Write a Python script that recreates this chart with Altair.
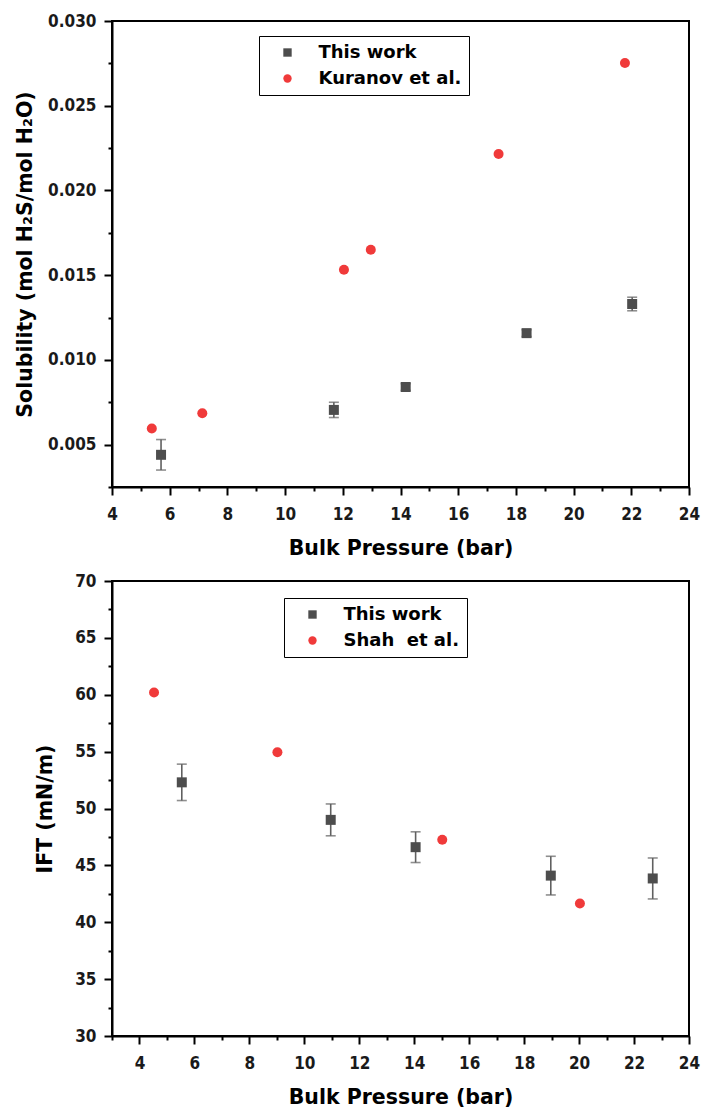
import altair as alt
import pandas as pd

# ---------- Top panel: solubility ----------
tw1_p = [5.70, 11.69, 14.18, 18.37, 22.03]
tw1_s = [0.0044, 0.00705, 0.0084, 0.01158, 0.01330]
tw1_e = [0.0009, 0.00045, 0.0002, 0.0002, 0.0004]
ku_p = [5.38, 7.13, 12.04, 12.97, 17.40, 21.78]
ku_s = [0.00595, 0.00685, 0.01532, 0.01650, 0.02215, 0.02752]

# ---------- Bottom panel: IFT ----------
tw2_p = [5.54, 10.96, 14.05, 18.97, 22.68]
tw2_i = [52.3, 49.0, 46.6, 44.1, 43.85]
tw2_e = [1.6, 1.4, 1.35, 1.7, 1.8]
sh_p = [4.53, 9.02, 15.02, 20.03]
sh_i = [60.2, 54.95, 47.25, 41.65]

top_series = ["This work", "Kuranov et al."]
bot_series = ["This work", "Shah\u00a0 et al."]

x_ticks_top = list(range(4, 25))
y_ticks_top = [round(0.0025 * k, 4) for k in range(1, 13)]
x_ticks_bot = list(range(3, 25))
y_ticks_bot = [30 + 2.5 * k for k in range(0, 17)]


def frame(p1, v1, e1, p2, v2, series):
    return pd.DataFrame({
        "p": p1 + p2,
        "v": v1 + v2,
        "lo": [v - e for v, e in zip(v1, e1)] + [None] * len(p2),
        "hi": [v + e for v, e in zip(v1, e1)] + [None] * len(p2),
        "series": [series[0]] * len(p1) + [series[1]] * len(p2),
    })


top_df = frame(tw1_p, tw1_s, tw1_e, ku_p, ku_s, top_series)
bot_df = frame(tw2_p, tw2_i, tw2_e, sh_p, sh_i, bot_series)

SQ = "#4d4d4d"
RED = "#f03a3a"
ERR = "#606060"
TICKFONT = "DejaVu Sans Condensed"
TITLEFONT = "DejaVu Sans"


def x_axis(vals):
    return alt.Axis(
        values=vals,
        title="Bulk Pressure (bar)",
        format="d",
        labelExpr="datum.value % 2 == 0 ? datum.label : ''",
        tickSize={"condition": {"test": "datum.value % 2 != 0", "value": 4}, "value": 8},
        labelOverlap=False,
        labelFlush=False,
        labelPadding=11,
        titleY=61,
        titleBaseline="middle",
    )


def y_axis(vals, title, label_expr, fmt, minor_test, title_x):
    return alt.Axis(
        values=vals,
        title=title,
        format=fmt,
        labelExpr=label_expr,
        tickSize={"condition": {"test": minor_test, "value": 4}, "value": 8},
        labelOverlap=False,
        labelFlush=False,
        labelPadding=8,
        titleX=title_x,
        titleBaseline="middle",
    )


def panel(df, series, xdom, xvals, ydom, yaxis, w, h, lx, ly):
    xs = alt.Scale(domain=xdom, nice=False, zero=False)
    ys = alt.Scale(domain=ydom, nice=False, zero=False)
    base = alt.Chart(df).encode(x=alt.X("p:Q", scale=xs, axis=x_axis(xvals)))
    bars = base.mark_rule(color=ERR, strokeWidth=1.6).encode(
        y=alt.Y("lo:Q", scale=ys, axis=yaxis), y2="hi:Q"
    )
    cap_lo = base.mark_tick(color=ERR, orient="horizontal", size=10, thickness=1.6).encode(
        y=alt.Y("lo:Q", scale=ys, axis=yaxis)
    )
    cap_hi = base.mark_tick(color=ERR, orient="horizontal", size=10, thickness=1.6).encode(
        y=alt.Y("hi:Q", scale=ys, axis=yaxis)
    )
    points = base.mark_point(filled=True, size=100, opacity=1).encode(
        y=alt.Y("v:Q", scale=ys, axis=yaxis),
        color=alt.Color(
            "series:N",
            scale=alt.Scale(domain=series, range=[SQ, RED]),
            legend=alt.Legend(
                title=None,
                orient="none",
                legendX=lx,
                legendY=ly,
                strokeColor="black",
                fillColor="white",
                padding=7.5,
                symbolOffset=12,
                labelOffset=22,
                rowPadding=8,
                symbolSize=70,
                labelFont=TITLEFONT,
                labelFontWeight="bold",
                labelFontSize=18,
                labelColor="black",
                labelLimit=300,
            ),
        ),
        shape=alt.Shape(
            "series:N",
            scale=alt.Scale(domain=series, range=["square", "circle"]),
            legend=alt.Legend(title=None, orient="none", legendX=lx, legendY=ly),
        ),
    )
    return alt.layer(bars, cap_lo, cap_hi, points).properties(width=w, height=h)


top = panel(
    top_df, top_series, [4, 24], x_ticks_top, [0.0025, 0.030],
    y_axis(y_ticks_top, "Solubility (mol H\u2082S/mol H\u2082O)",
           "round(datum.value*10000) % 50 == 0 ? format(datum.value, '.3f') : ''",
           ".3f", "round(datum.value*10000) % 50 != 0", -87),
    577, 466, 147, 15,
)
bottom = panel(
    bot_df, bot_series, [3, 24], x_ticks_bot, [30, 70],
    y_axis(y_ticks_bot, "IFT (mN/m)",
           "datum.value % 5 == 0 ? format(datum.value, 'd') : ''",
           ".1f", "datum.value % 5 != 0", -67),
    577, 455, 172, 17,
)

chart = alt.vconcat(top, bottom, spacing=11).resolve_scale(
    color="independent", shape="independent"
).properties(
    padding={"left": 13, "top": 11, "right": 0, "bottom": 0},
    background="white",
).configure_view(
    stroke="black", strokeWidth=2
).configure_axis(
    domainColor="black",
    domainWidth=2,
    tickColor="black",
    tickWidth=2,
    grid=False,
    labelOverlap=False,
    labelFont=TICKFONT,
    labelFontWeight="bold",
    labelFontSize=17,
    labelColor="#1a1a1a",
    titleFont=TITLEFONT,
    titleFontWeight="bold",
    titleFontSize=20.5,
    titleColor="black",
)

chart.save("out.html", embed_options={"renderer": "svg", "actions": False})
